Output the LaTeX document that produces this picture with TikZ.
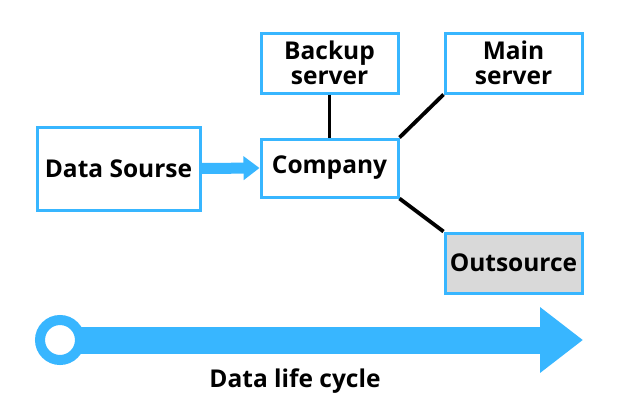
\documentclass[tikz,border=0pt]{standalone}
\usepackage{fontspec}
\setmainfont{Open Sans}
\usetikzlibrary{arrows.meta}
\definecolor{skyb}{HTML}{38B6FF}
\definecolor{boxgray}{HTML}{D9D9D9}
\tikzset{txt/.style={font=\fontsize{24.5}{25}\selectfont\bfseries}}
\begin{document}
\begin{tikzpicture}[x=1pt,y=-1pt,
  box/.style={draw=skyb,line width=3pt,fill=white,minimum width=137pt,minimum height=60pt,inner sep=0pt,align=center,txt},
  link/.style={draw=black,line width=3.8pt}]
\useasboundingbox[fill=white] (0,0) rectangle (624,408);
\node[box,minimum width=163pt,minimum height=83pt] (src) at (118.5,168.5) {Data Sourse};
\node[box] (backup) at (329.5,63) {Backup\\server};
\node[box,minimum height=58pt] (company) at (329.5,168) {Company};
\node[box] (main) at (513.5,63) {Main\\server};
\node[box,fill=boxgray] (out) at (513.5,263) {Outsource};
\draw[link] (backup.south) -- (company.north);
\draw[link] (company.north east) -- (main.south west);
\draw[link] (company.south east) -- (out.north west);
\draw[skyb,line width=11pt,-{Triangle[length=16pt,width=23pt]}] (src.east) -- (company.west);
\coordinate (ring) at (60,340);
\coordinate (tip) at (583,340);
\draw[skyb,line width=27pt,-{Triangle[length=43pt,width=63pt]}] ([xshift=20pt]ring) -- (tip);
\draw[skyb,line width=10pt,fill=white] (ring) circle[radius=20pt];
\node[txt] (lbl) at (295,381) {Data life cycle};
\end{tikzpicture}
\end{document}
